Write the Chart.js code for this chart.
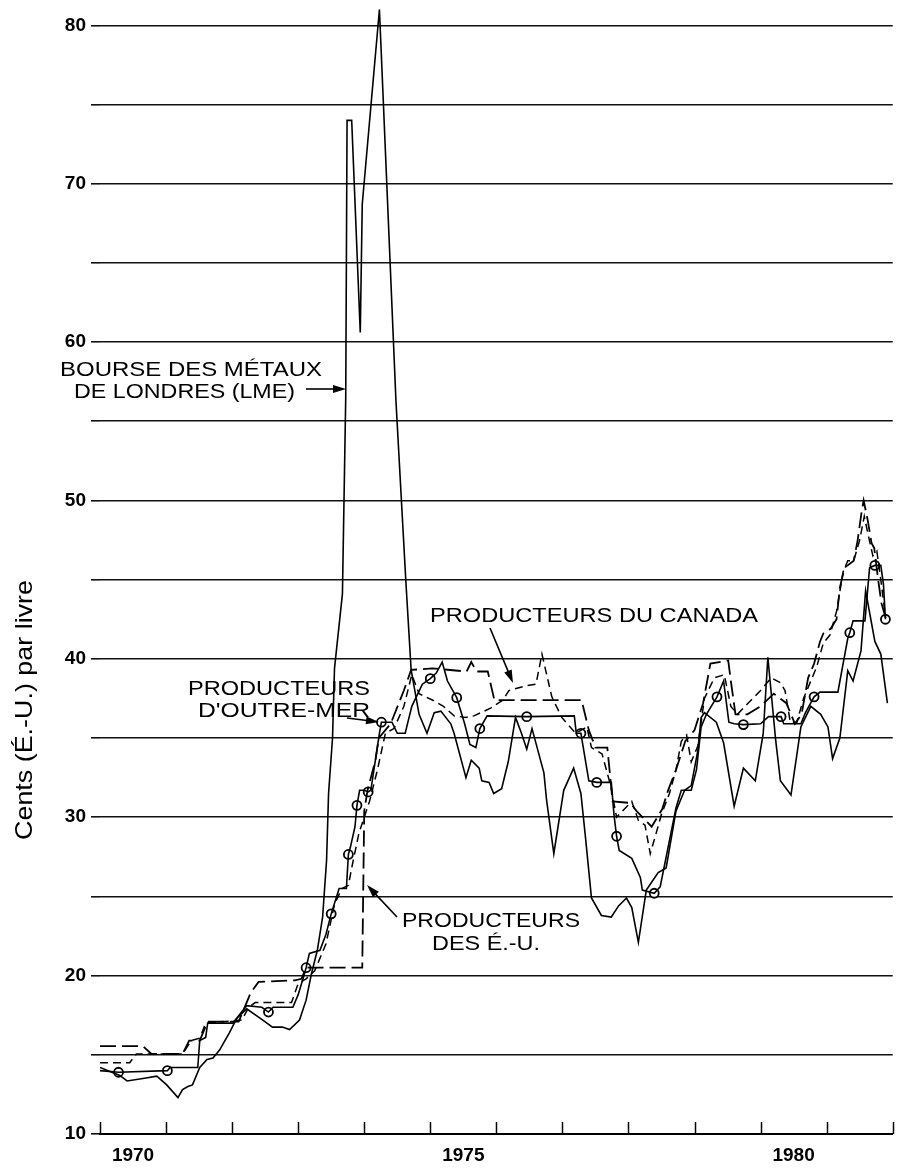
<!DOCTYPE html>
<html>
<head>
<meta charset="utf-8">
<script src="https://cdn.jsdelivr.net/npm/chart.js@4"></script>
<style>
  html, body { margin: 0; padding: 0; background: #fff; }
</style>
</head>
<body>
<canvas id="zincChart" width="899" height="1168"></canvas>
<script>
// Données (cents É.-U. par livre), [année décimale, valeur]

const lme = [
  [1970.00,14.2],[1970.30,13.7],[1970.41,13.35],[1970.65,13.5],[1970.86,13.65],[1971.01,13.1],
  [1971.18,12.3],[1971.25,12.8],[1971.33,13.0],[1971.40,13.1],[1971.51,14.2],[1971.62,14.7],
  [1971.71,14.8],[1971.81,15.3],[1971.96,16.4],[1972.07,17.3],[1972.22,17.9],[1972.46,17.2],
  [1972.61,16.75],[1972.76,16.75],[1972.87,16.6],[1973.02,17.2],[1973.12,18.45],[1973.20,20.1],
  [1973.29,21.6],[1973.37,23.7],[1973.43,27.3],[1973.46,31.5],[1973.52,35.0],[1973.55,39.4],
  [1973.67,44.1],[1973.72,56.5],[1973.74,74.0],[1973.81,74.0],[1973.94,60.6],[1973.97,68.7],
  [1974.23,81.0],[1974.48,56.3],[1974.63,44.9],[1974.71,39.3],[1974.83,36.5],[1974.95,35.3],
  [1975.06,36.6],[1975.16,36.7],[1975.31,35.9],[1975.36,35.3],[1975.54,32.5],[1975.62,33.6],
  [1975.74,33.1],[1975.78,32.3],[1975.89,32.2],[1975.96,31.5],[1976.08,31.8],[1976.18,33.5],
  [1976.29,36.3],[1976.38,35.3],[1976.46,34.3],[1976.54,35.6],[1976.72,32.8],[1976.76,31.1],
  [1976.87,27.7],[1977.02,31.7],[1977.17,33.1],[1977.28,31.5],[1977.35,28.7],[1977.44,24.9],
  [1977.59,23.8],[1977.74,23.7],[1977.85,24.4],[1977.97,24.9],[1978.05,24.3],[1978.15,22.1],
  [1978.27,25.4],[1978.45,26.5],[1978.57,26.8],[1978.72,30.4],[1978.85,31.7],[1978.95,32.0],
  [1979.05,34.2],[1979.10,36.3],[1979.15,36.6],[1979.33,36.0],[1979.44,34.7],[1979.60,30.7],
  [1979.74,33.1],[1979.92,32.3],[1980.04,35.3],[1980.11,40.1],[1980.23,34.8],[1980.30,32.3],
  [1980.46,31.4],[1980.61,35.7],[1980.76,37.0],[1980.91,36.5],[1981.02,35.7],[1981.09,33.7],
  [1981.20,35.0],[1981.32,39.25],[1981.40,38.6],[1981.52,40.5],[1981.59,44.3],[1981.73,41.1],
  [1981.82,40.3],[1981.92,37.2]
];

const overseas = [
  [1970.00,14.0],[1970.28,13.9],[1971.02,14.0],[1971.06,14.2],[1971.48,14.2],[1971.51,15.9],
  [1971.60,16.1],[1971.63,17.0],[1972.01,17.0],[1972.22,18.1],[1972.45,18.0],[1972.55,17.7],
  [1972.62,18.0],[1972.92,18.0],[1973.00,18.8],[1973.08,19.9],[1973.12,20.5],[1973.17,21.4],
  [1973.33,21.6],[1973.42,22.6],[1973.50,23.9],[1973.53,24.3],[1973.62,25.5],[1973.73,25.5],
  [1973.76,27.65],[1973.79,28.1],[1973.86,29.4],[1973.89,30.75],[1973.93,31.7],[1974.00,31.7],
  [1974.06,31.6],[1974.10,31.7],[1974.23,35.3],[1974.26,36.0],[1974.42,36.0],[1974.50,35.3],
  [1974.62,35.3],[1974.72,37.0],[1974.88,38.4],[1975.00,38.75],[1975.09,39.1],[1975.18,39.8],
  [1975.26,38.6],[1975.40,37.55],[1975.52,35.9],[1975.60,34.6],[1975.69,34.4],[1975.75,35.6],
  [1975.86,36.4],[1976.46,36.35],[1977.18,36.4],[1977.21,35.3],[1977.28,35.3],[1977.40,32.3],
  [1977.52,32.2],[1977.74,32.2],[1977.78,30.2],[1977.82,28.8],[1977.86,27.9],[1978.05,27.4],
  [1978.18,26.2],[1978.21,25.4],[1978.39,25.2],[1978.48,25.6],[1978.72,30.6],[1978.80,31.7],
  [1978.95,31.7],[1979.03,33.0],[1979.10,35.7],[1979.18,36.5],[1979.34,37.6],[1979.44,38.6],
  [1979.52,36.0],[1979.60,35.9],[1979.74,35.85],[1980.00,35.9],[1980.12,36.35],[1980.31,36.35],
  [1980.35,35.9],[1980.61,35.9],[1980.68,36.6],[1980.81,37.6],[1980.90,37.9],[1981.17,37.9],
  [1981.32,41.3],[1981.35,41.65],[1981.40,42.4],[1981.58,42.4],[1981.65,45.75],[1981.73,45.9],
  [1981.82,45.9],[1981.86,44.7],[1981.89,42.5]
];

// points marqués d'un cercle sur la courbe des producteurs d'outre-mer
const overseasCircles = [
  [1970.28,13.9],[1971.02,14.0],[1972.55,17.7],[1973.12,20.5],[1973.50,23.9],[1973.76,27.65],
  [1973.89,30.75],[1974.06,31.6],[1974.26,36.0],[1975.00,38.75],[1975.40,37.55],[1975.75,35.6],
  [1976.46,36.35],[1977.28,35.3],[1977.52,32.2],[1977.82,28.8],[1978.39,25.2],[1979.34,37.6],
  [1979.74,35.85],[1980.31,36.35],[1980.81,37.6],[1981.35,41.65],[1981.73,45.9],[1981.89,42.5]
];

const usProducers = [
  [1970.00,15.55],[1970.65,15.55],[1970.78,15.05],[1971.25,15.05],[1971.35,15.9],[1971.51,15.9],
  [1971.63,17.1],[1972.10,17.1],[1972.28,18.9],[1972.40,19.6],[1972.95,19.7],[1973.05,19.8],
  [1973.12,20.5],[1973.97,20.5],[1974.00,30.4],[1974.05,31.7],[1974.17,33.6],[1974.22,35.0],
  [1974.40,35.9],[1974.60,38.0],[1974.71,39.3],[1975.03,39.4],[1975.55,39.2],[1975.62,39.8],
  [1975.70,39.2],[1975.87,39.2],[1975.97,37.4],[1977.29,37.4],[1977.40,35.5],[1977.50,34.4],
  [1977.68,34.4],[1977.76,31.0],[1978.03,30.9],[1978.12,30.4],[1978.35,29.4],[1978.51,30.5],
  [1978.60,31.7],[1978.72,33.0],[1978.86,34.8],[1979.00,35.5],[1979.13,37.2],[1979.24,39.7],
  [1979.51,39.9],[1979.55,38.6],[1979.62,36.5],[1979.80,36.5],[1980.00,37.0],[1980.20,37.8],
  [1980.39,37.2],[1980.52,35.9],[1980.62,36.5],[1980.72,38.8],[1980.81,39.7],[1980.90,41.1],
  [1980.95,41.6],[1981.06,41.9],[1981.15,42.5],[1981.20,44.5],[1981.27,45.75],[1981.41,46.2],
  [1981.47,47.5],[1981.53,49.3],[1981.56,50.0],[1981.62,48.8],[1981.68,47.3],[1981.72,47.0],
  [1981.78,45.0],[1981.83,43.5],[1981.90,42.5]
];

const canadaProducers = [
  [1970.00,14.5],[1970.45,14.5],[1970.55,15.05],[1971.25,15.05],[1971.38,15.9],[1971.51,16.05],
  [1971.60,17.0],[1972.15,17.2],[1972.25,18.0],[1972.35,18.3],[1972.90,18.3],[1973.00,19.5],
  [1973.12,19.8],[1973.25,20.3],[1973.42,22.0],[1973.55,24.5],[1973.66,25.5],[1973.76,25.7],
  [1973.82,27.0],[1973.92,29.0],[1974.00,30.0],[1974.08,31.0],[1974.20,33.0],[1974.32,35.3],
  [1974.45,35.6],[1974.60,37.0],[1974.72,39.0],[1974.83,37.8],[1975.03,37.4],[1975.20,37.0],
  [1975.36,36.4],[1975.54,36.3],[1975.66,36.4],[1975.92,36.9],[1976.10,37.4],[1976.19,38.0],
  [1976.45,38.3],[1976.60,38.4],[1976.69,40.3],[1976.84,37.6],[1976.99,36.3],[1977.20,35.3],
  [1977.37,35.7],[1977.44,34.4],[1977.60,34.0],[1977.73,32.0],[1977.82,30.0],[1978.05,31.0],
  [1978.15,29.8],[1978.25,29.5],[1978.33,27.7],[1978.42,29.0],[1978.50,30.2],[1978.62,31.5],
  [1978.72,33.0],[1978.80,34.8],[1978.88,35.2],[1978.95,33.5],[1979.05,34.5],[1979.15,37.5],
  [1979.30,38.8],[1979.45,39.0],[1979.55,37.0],[1979.65,36.5],[1979.81,37.2],[1980.00,38.0],
  [1980.16,38.8],[1980.30,38.5],[1980.37,38.0],[1980.45,36.0],[1980.55,36.0],[1980.65,37.5],
  [1980.75,38.5],[1980.85,39.5],[1980.95,41.0],[1981.05,41.5],[1981.15,43.0],[1981.25,45.5],
  [1981.32,46.2],[1981.41,46.2],[1981.50,47.5],[1981.57,49.0],[1981.62,48.0],[1981.70,46.5],
  [1981.76,46.8],[1981.82,45.0],[1981.88,43.0]
];

const yearLabels = [1970, 1975, 1980];
const yTickLabels = [10, 20, 30, 40, 50, 60, 70, 80];

const toXY = rows => rows.map(([x, y]) => ({ x, y }));

// Textes étirés en largeur, comme sur l'original
function stretchText(ctx, text, left, right, baseline) {
  const w = ctx.measureText(text).width;
  ctx.save();
  ctx.translate(left, baseline);
  ctx.scale((right - left) / w, 1);
  ctx.fillText(text, 0, 0);
  ctx.restore();
}

function arrow(ctx, x1, y1, x2, y2) {
  const a = Math.atan2(y2 - y1, x2 - x1);
  const c = Math.cos(a), s = Math.sin(a);
  ctx.beginPath();
  ctx.moveTo(x1, y1);
  ctx.lineTo(x2 - 8 * c, y2 - 8 * s);
  ctx.stroke();
  ctx.beginPath();
  ctx.moveTo(x2, y2);
  ctx.lineTo(x2 - 13 * c + 4 * s, y2 - 13 * s - 4 * c);
  ctx.lineTo(x2 - 13 * c - 4 * s, y2 - 13 * s + 4 * c);
  ctx.closePath();
  ctx.fill();
}

const notes = {
  id: 'notes',
  afterDraw(chart) {
    const ctx = chart.ctx;
    const xs = chart.scales.x, ys = chart.scales.y;
    ctx.save();
    ctx.fillStyle = '#000';
    ctx.strokeStyle = '#000';

    // graduations des années, vers le haut
    ctx.lineWidth = 1.5;
    for (let yr = 1970; yr <= 1982; yr++) {
      const px = Math.round(xs.getPixelForValue(yr)) + 0.5;
      ctx.beginPath();
      ctx.moveTo(px, ys.bottom);
      ctx.lineTo(px, ys.bottom - 12);
      ctx.stroke();
    }

    // titre de l'axe vertical
    ctx.save();
    ctx.font = '24px "Liberation Sans"';
    ctx.translate(32, 840);
    ctx.rotate(-Math.PI / 2);
    stretchText(ctx, 'Cents (É.-U.) par livre', 0, 260, 0);
    ctx.restore();

    ctx.font = '20px "Liberation Sans"';
    stretchText(ctx, 'BOURSE DES MÉTAUX', 60, 322, 376);
    stretchText(ctx, 'DE LONDRES (LME)', 74, 295, 398);
    stretchText(ctx, 'PRODUCTEURS', 188, 370, 695);
    stretchText(ctx, "D'OUTRE-MER", 198, 370, 717);
    stretchText(ctx, 'PRODUCTEURS DU CANADA', 430, 758, 622);
    stretchText(ctx, 'PRODUCTEURS', 402, 580, 927);
    stretchText(ctx, 'DES É.-U.', 432, 540, 950);

    ctx.lineWidth = 1.6;
    arrow(ctx, 306, 389, 346, 389);
    arrow(ctx, 347, 718, 379, 722);
    arrow(ctx, 490, 628, 513, 683);
    arrow(ctx, 397, 917, 367, 885);
    ctx.restore();
  }
};

const tickFont = { family: 'Liberation Sans', weight: 'bold', size: 19 };

const config = {
  type: 'line',
  data: {
    datasets: [
      {
        label: 'Bourse des métaux de Londres (LME)',
        data: toXY(lme),
        borderColor: '#000',
        borderWidth: 1.6,
        pointRadius: 0
      },
      {
        label: 'Producteurs des É.-U.',
        data: toXY(usProducers),
        borderColor: '#000',
        borderWidth: 1.8,
        borderDash: [16, 6],
        pointRadius: 0
      },
      {
        label: 'Producteurs du Canada',
        data: toXY(canadaProducers),
        borderColor: '#000',
        borderWidth: 1.5,
        borderDash: [8, 5],
        pointRadius: 0
      },
      {
        label: "Producteurs d'outre-mer",
        data: toXY(overseas),
        borderColor: '#000',
        borderWidth: 1.6,
        pointRadius: 0
      },
      {
        label: 'cercles',
        data: toXY(overseasCircles),
        showLine: false,
        pointRadius: 4.5,
        pointBorderWidth: 1.8,
        pointBorderColor: '#000',
        pointBackgroundColor: '#fff'
      }
    ]
  },
  options: {
    responsive: false,
    animation: false,
    layout: { padding: { top: 0, right: 4, bottom: 0, left: 0 } },
    plugins: { legend: { display: false }, tooltip: { enabled: false } },
    scales: {
      x: {
        type: 'linear',
        min: 1970,
        max: 1982,
        afterBuildTicks: s => { s.ticks = yearLabels.map(y => ({ value: y + 0.5 })); },
        afterFit: s => { s.height = 34; s.paddingLeft = 0; s.paddingRight = 0; },
        grid: { display: true, drawOnChartArea: false, drawTicks: false },
        border: { display: true, color: '#000', width: 2 },
        ticks: {
          padding: 10,
          color: '#000',
          font: tickFont,
          maxRotation: 0,
          autoSkip: false,
          callback: v => String(Math.floor(v))
        }
      },
      y: {
        min: 10,
        max: 81.2,
        afterFit: s => { s.width = 100; s.paddingTop = 0; s.paddingBottom = 0; },
        grid: { color: '#111', lineWidth: 1.6, tickLength: 9, drawTicks: true },
        border: { display: false },
        ticks: {
          stepSize: 5,
          includeBounds: false,
          padding: 5,
          color: '#000',
          font: tickFont,
          autoSkip: false,
          callback: v => yTickLabels.includes(v) ? String(v) : ''
        }
      }
    }
  },
  plugins: [notes]
};

const ctx = document.getElementById('zincChart').getContext('2d');
const zincChart = new Chart(ctx, config);
</script>
</body>
</html>
